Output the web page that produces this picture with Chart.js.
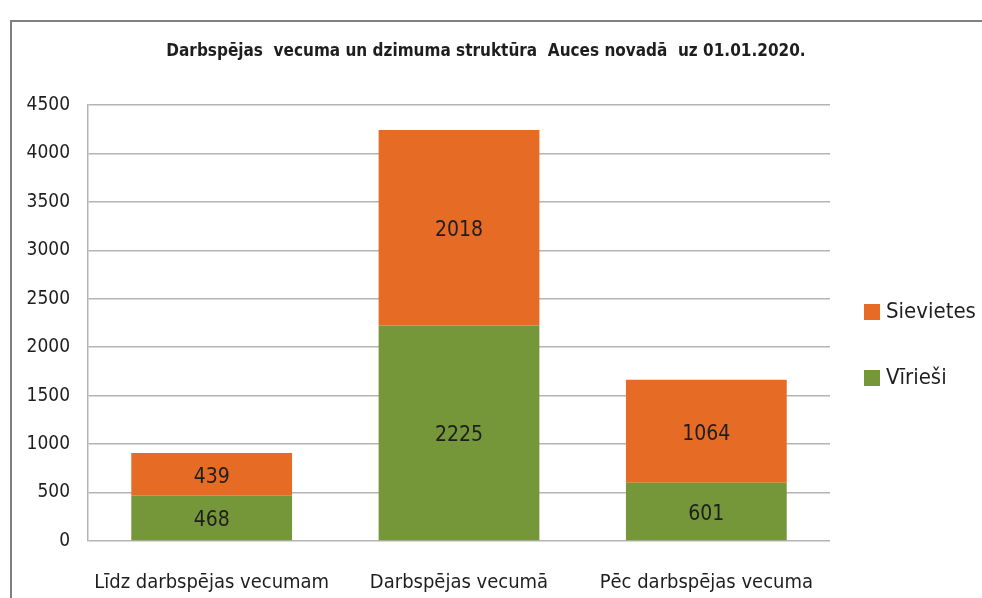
<!DOCTYPE html>
<html>
<head>
<meta charset="utf-8">
<script src="https://cdn.jsdelivr.net/npm/chart.js@4"></script>
<style>
  body { margin: 0; background: #fff; }
  #wrap { position: relative; width: 982px; height: 598px; overflow: hidden; }
  #frame { position: absolute; left: 10px; top: 20px; right: -5px; bottom: -5px;
           border-top: 2px solid #808080; border-left: 2px solid #808080; }
  canvas { position: absolute; left: 0; top: 0; }
</style>
</head>
<body>
<div id="wrap">
  <div id="frame"></div>
  <canvas id="chart" width="982" height="598"></canvas>
</div>
<script>
const categories = ['Līdz darbspējas vecumam', 'Darbspējas vecumā', 'Pēc darbspējas vecuma'];
const viriesi = [468, 2225, 601];
const sievietes = [439, 2018, 1064];
const yTicks = [0, 500, 1000, 1500, 2000, 2500, 3000, 3500, 4000, 4500];
const titleText = 'Darbspējas  vecuma un dzimuma struktūra  Auces novadā  uz 01.01.2020.';

const FONT = '"DejaVu Sans Condensed", "Open Sans", sans-serif';
const ORANGE = '#e66b24';
const GREEN = '#76963a';

// title is centred on the whole frame, not on the plot, so draw it by hand
const topTitle = {
  id: 'topTitle',
  afterDraw(chart) {
    const ctx = chart.ctx;
    ctx.save();
    ctx.font = 'bold 17px ' + FONT;
    ctx.fillStyle = '#1e1e1e';
    ctx.textAlign = 'center';
    ctx.textBaseline = 'middle';
    ctx.fillText(titleText, 486, 52);
    ctx.restore();
  }
};

// value text in the middle of each segment
const barLabels = {
  id: 'barLabels',
  afterDatasetsDraw(chart) {
    const ctx = chart.ctx;
    ctx.save();
    ctx.font = '21px ' + FONT;
    ctx.fillStyle = '#1e1e1e';
    ctx.textAlign = 'center';
    ctx.textBaseline = 'middle';
    chart.data.datasets.forEach((ds, i) => {
      chart.getDatasetMeta(i).data.forEach((bar, j) => {
        const mid = (bar.y + bar.base) / 2 + 3;
        ctx.fillText(String(ds.data[j]), bar.x, mid);
      });
    });
    ctx.restore();
  }
};

// legend at the right, Sievietes above Vīrieši
const sideLegend = {
  id: 'sideLegend',
  afterDraw(chart) {
    const ctx = chart.ctx;
    const items = chart.data.datasets.slice().reverse();
    ctx.save();
    ctx.font = '22px ' + FONT;
    ctx.textBaseline = 'middle';
    items.forEach((ds, i) => {
      const y = 312 + i * 66;
      ctx.fillStyle = ds.backgroundColor;
      ctx.fillRect(864, y - 8, 16, 16);
      ctx.fillStyle = '#1e1e1e';
      ctx.fillText(ds.label, 886, y);
    });
    ctx.restore();
  }
};

new Chart(document.getElementById('chart'), {
  type: 'bar',
  data: {
    labels: categories,
    datasets: [
      { label: 'Vīrieši', data: viriesi, backgroundColor: GREEN },
      { label: 'Sievietes', data: sievietes, backgroundColor: ORANGE }
    ]
  },
  options: {
    responsive: false,
    animation: false,
    events: [],
    layout: { padding: { top: 105, left: 26, right: 152, bottom: 0 } },
    datasets: { bar: { categoryPercentage: 1, barPercentage: 0.65 } },
    scales: {
      x: {
        stacked: true,
        grid: { display: false },
        border: { display: false },
        afterFit: (scale) => { scale.height = 57; },
        ticks: { color: '#1e1e1e', font: { family: FONT, size: 20 }, padding: 22,
                 maxRotation: 0, minRotation: 0, autoSkip: false }
      },
      y: {
        stacked: true,
        min: 0,
        max: 4500,
        afterBuildTicks: (scale) => { scale.ticks = yTicks.map(v => ({ value: v })); },
        afterFit: (scale) => { scale.width = 62; },
        grid: { color: '#b4b4b4', lineWidth: 1.5, drawTicks: false },
        border: { display: true, color: '#b4b4b4', width: 1.5 },
        ticks: { color: '#1e1e1e', font: { family: FONT, size: 19 }, padding: 18,
                 callback: (v) => String(v) }
      }
    },
    plugins: {
      legend: { display: false },
      tooltip: { enabled: false },
      title: { display: false }
    }
  },
  plugins: [topTitle, barLabels, sideLegend]
});
</script>
</body>
</html>
